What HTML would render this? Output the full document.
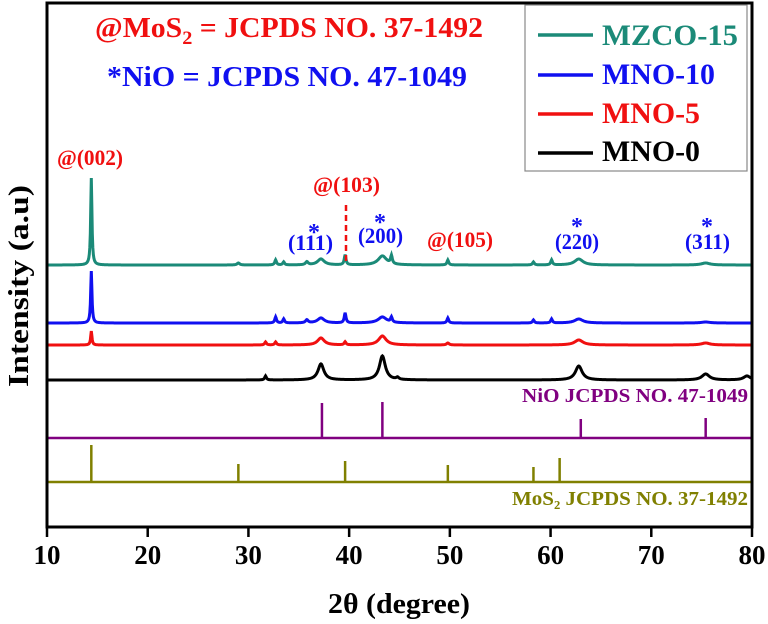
<!DOCTYPE html>
<html><head><meta charset="utf-8"><style>
html,body{margin:0;padding:0;background:#fff;}
svg{display:block;}
text{font-family:"Liberation Serif",serif;font-weight:bold;}
</style></head><body>
<svg id="chart" width="768" height="624" viewBox="0 0 768 624">
<g id="traces"></g>
<g id="refs"></g>
<rect x="47" y="3" width="705" height="524" fill="none" stroke="#000" stroke-width="3"/>
<g id="xticks"></g>
<text x="328" y="613" font-size="29" textLength="142" lengthAdjust="spacingAndGlyphs">2θ (degree)</text>
<text transform="translate(28,387) rotate(-90)" font-size="29" textLength="202" lengthAdjust="spacingAndGlyphs">Intensity (a.u)</text>
<text x="95" y="37" font-size="28" fill="#f01010" textLength="388" lengthAdjust="spacingAndGlyphs">@MoS<tspan font-size="19" dy="7">2</tspan><tspan dy="-7"> = JCPDS NO. 37-1492</tspan></text>
<text x="107" y="86" font-size="28" fill="#1010f0" textLength="360" lengthAdjust="spacingAndGlyphs">*NiO = JCPDS NO. 47-1049</text>
<g>
<rect x="525" y="5" width="222" height="166" fill="#fff" stroke="#888" stroke-width="1.2"/>
<line x1="538" y1="35" x2="593" y2="35" stroke="#1b8a78" stroke-width="3.5"/>
<text x="602" y="45" font-size="30" fill="#1b8a78" textLength="136" lengthAdjust="spacingAndGlyphs">MZCO-15</text>
<line x1="538" y1="75" x2="593" y2="75" stroke="#1010f0" stroke-width="3.5"/>
<text x="602" y="84" font-size="30" fill="#1010f0" textLength="113" lengthAdjust="spacingAndGlyphs">MNO-10</text>
<line x1="538" y1="114" x2="593" y2="114" stroke="#f01010" stroke-width="3.5"/>
<text x="602" y="123" font-size="30" fill="#f01010" textLength="98" lengthAdjust="spacingAndGlyphs">MNO-5</text>
<line x1="538" y1="153" x2="593" y2="153" stroke="#000" stroke-width="3.5"/>
<text x="602" y="161" font-size="30" fill="#000" textLength="98" lengthAdjust="spacingAndGlyphs">MNO-0</text>
</g>
<g>
<text x="57" y="165" font-size="22" fill="#f01010" textLength="66" lengthAdjust="spacingAndGlyphs">@(002)</text>
<text x="313" y="192" font-size="22" fill="#f01010" textLength="67" lengthAdjust="spacingAndGlyphs">@(103)</text>
<line x1="346" y1="205" x2="346" y2="262" stroke="#f01010" stroke-width="2.5" stroke-dasharray="6,4"/>
<text x="288" y="250" font-size="22" fill="#1010f0" textLength="45" lengthAdjust="spacingAndGlyphs">(111)</text>
<text x="308" y="240" font-size="24" fill="#1010f0">*</text>
<text x="358" y="243" font-size="22" fill="#1010f0" textLength="45" lengthAdjust="spacingAndGlyphs">(200)</text>
<text x="374" y="230" font-size="24" fill="#1010f0">*</text>
<text x="427" y="247" font-size="22" fill="#f01010" textLength="66" lengthAdjust="spacingAndGlyphs">@(105)</text>
<text x="555" y="249" font-size="22" fill="#1010f0" textLength="44" lengthAdjust="spacingAndGlyphs">(220)</text>
<text x="571" y="234" font-size="24" fill="#1010f0">*</text>
<text x="685" y="249" font-size="22" fill="#1010f0" textLength="45" lengthAdjust="spacingAndGlyphs">(311)</text>
<text x="701" y="234" font-size="24" fill="#1010f0">*</text>
<text x="522" y="402" font-size="20" fill="#800080" textLength="226" lengthAdjust="spacingAndGlyphs">NiO JCPDS NO. 47-1049</text>
<text x="512" y="505" font-size="20" fill="#808000" textLength="236" lengthAdjust="spacingAndGlyphs">MoS₂ JCPDS NO. 37-1492</text>
</g>
</svg>
<script>
const xTicks=[10,20,30,40,50,60,70,80];
// peaks: [2theta, height in px, width in degrees]
const mzcoPeaks=[[14.4,87,0.15],[29,2,0.3],[32.7,5,0.2],[33.5,3,0.2],[35.8,3,0.3],[37.2,6,0.8],[39.6,10,0.2],[43.3,9,1.0],[44.2,8,0.2],[49.8,5,0.2],[58.3,3,0.2],[60.1,5,0.2],[62.8,6,1.0],[75.4,2,1.0]];
const mno10Peaks=[[14.4,52,0.15],[32.7,6,0.2],[33.5,4,0.2],[35.8,3,0.3],[37.2,5,0.8],[39.6,10,0.2],[43.3,6,1.0],[44.2,5,0.2],[49.8,5,0.2],[58.3,3,0.2],[60.1,4,0.2],[62.8,4,1.0],[75.4,1,1.0]];
const mno5Peaks=[[14.4,14,0.15],[31.7,3,0.2],[32.7,3,0.2],[37.2,7,0.8],[39.6,3,0.2],[43.3,9,0.9],[49.8,2,0.3],[62.8,5,1.0],[75.4,2,1.0]];
const mno0Peaks=[[31.7,4,0.2],[37.2,16,0.7],[43.3,24,0.7],[44.8,2,0.3],[62.8,14,0.8],[75.4,6,0.9],[79.5,4,0.8]];
const seriesBase=[265,323,345,380];
const seriesColors=["#1b8a78","#1010f0","#f01010","#000"];
const seriesNames=["trace-mzco15","trace-mno10","trace-mno5","trace-mno0"];
const nioPos=[37.3,43.3,63.0,75.4];
const nioHt=[35,36,19,20];
const mos2Pos=[14.4,29.0,39.6,49.8,58.3,60.9];
const mos2Ht=[37,18,21,17,15,24];
const X0=10,X1=80,PX0=47,PX1=752;
function xs(v){return PX0+(v-X0)/(X1-X0)*(PX1-PX0);}
const NS="http://www.w3.org/2000/svg";
const tr=document.getElementById('traces');
const allPeaks=[mzcoPeaks,mno10Peaks,mno5Peaks,mno0Peaks];
allPeaks.forEach((pk,i)=>{
  let d="";
  for(let t=10;t<=80.001;t+=0.05){
    let y=0;
    pk.forEach(p=>{const u=(t-p[0])/(p[2]/2);y+=p[1]/(1+u*u);});
    d+=(d?"L":"M")+xs(t).toFixed(2)+","+(seriesBase[i]-y).toFixed(2);
  }
  const el=document.createElementNS(NS,'path');
  el.setAttribute('d',d);el.setAttribute('fill','none');
  el.setAttribute('stroke',seriesColors[i]);el.setAttribute('stroke-width','3');
  
  
  tr.appendChild(el);
});
const rf=document.getElementById('refs');
function refPattern(pos,ht,base,color,name){
  const bl=document.createElementNS(NS,'line');
  bl.setAttribute('x1',xs(10));bl.setAttribute('x2',xs(80));bl.setAttribute('y1',base);bl.setAttribute('y2',base);
  bl.setAttribute('stroke',color);bl.setAttribute('stroke-width','2.5');
  
  
  rf.appendChild(bl);
  pos.forEach((p,k)=>{
    const l=document.createElementNS(NS,'line');
    l.setAttribute('x1',xs(p));l.setAttribute('x2',xs(p));l.setAttribute('y1',base);l.setAttribute('y2',base-ht[k]);
    l.setAttribute('stroke',color);l.setAttribute('stroke-width','2.5');
    
    
    rf.appendChild(l);
  });
}
refPattern(nioPos,nioHt,438,"#800080","nio-reference");
refPattern(mos2Pos,mos2Ht,482,"#808000","mos2-reference");
const xt=document.getElementById('xticks');
xTicks.forEach(v=>{
  const l=document.createElementNS(NS,'line');
  l.setAttribute('x1',xs(v));l.setAttribute('x2',xs(v));l.setAttribute('y1',527);l.setAttribute('y2',537);
  l.setAttribute('stroke','#000');l.setAttribute('stroke-width','2.5');
  
  
  xt.appendChild(l);
  const t=document.createElementNS(NS,'text');
  t.setAttribute('x',xs(v));t.setAttribute('y',564);t.setAttribute('font-size','27');t.setAttribute('text-anchor','middle');
  t.textContent=v;
  
  
  xt.appendChild(t);
});
</script>
</body></html>
